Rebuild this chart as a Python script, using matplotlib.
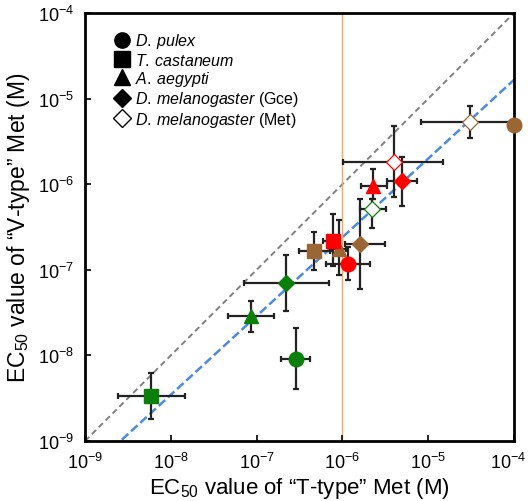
import matplotlib
matplotlib.use("Agg")
import matplotlib.pyplot as plt
from matplotlib.lines import Line2D
from matplotlib.transforms import ScaledTranslation
import numpy as np

plt.rcParams['font.family'] = ['Liberation Sans', 'DejaVu Sans']
plt.rcParams['mathtext.fontset'] = 'custom'
plt.rcParams['mathtext.rm'] = 'Liberation Sans'
plt.rcParams['mathtext.it'] = 'Liberation Sans:italic'

# EC50 values (M)
x_val = [5.9e-9, 8.5e-8, 2.2e-7, 2.9e-7, 2.2e-6,
         4.7e-7, 9.1e-7, 1.62e-6, 3.1e-5, 1.0e-4,
         7.8e-7, 1.15e-6, 2.3e-6, 4.9e-6, 4.0e-6]
y_val = [3.4e-9, 2.9e-8, 7.0e-8, 9.2e-9, 5.1e-7,
         1.67e-7, 1.75e-7, 2.0e-7, 5.3e-6, 4.9e-6,
         2.2e-7, 1.17e-7, 9.6e-7, 1.1e-6, 1.83e-6]
x_low = [2.4e-9, 4.6e-8, 7.1e-8, 1.9e-7, 1.6e-6,
         3.1e-7, 7.5e-7, 1.07e-6, 8.2e-6, 1.0e-4,
         6.0e-7, 6.4e-7, 1.66e-6, 3.3e-6, 1.02e-6]
x_high = [1.48e-8, 1.6e-7, 6.9e-7, 4.2e-7, 3.2e-6,
          7.1e-7, 1.1e-6, 3.1e-6, 1.0e-4, 1.0e-4,
          9.5e-7, 2.1e-6, 3.3e-6, 7.5e-6, 1.5e-5]
y_low = [1.8e-9, 1.9e-8, 3.3e-8, 4.1e-9, 3.1e-7,
         1.0e-7, 8.7e-8, 6.0e-8, 3.5e-6, 4.9e-6,
         1.1e-7, 7.6e-8, 6.8e-7, 5.6e-7, 7.1e-7]
y_high = [6.3e-9, 4.3e-8, 1.5e-7, 2.1e-8, 6.8e-7,
          2.8e-7, 3.8e-7, 6.8e-7, 8.3e-6, 4.9e-6,
          4.5e-7, 1.83e-7, 1.5e-6, 2.1e-6, 4.8e-6]
colors = ['green'] * 5 + ['brown'] * 5 + ['red'] * 5
markers = ['s', '^', 'D', 'o', 'd',
           's', '^', 'D', 'd', 'o',
           's', 'o', '^', 'D', 'd']

color_map = {'green': '#0a800a', 'brown': '#9a6634', 'red': '#ff0000'}

legend_labels = [r'$\it{D.\:pulex}$', r'$\it{T.\:castaneum}$', r'$\it{A.\:aegypti}$',
                 r'$\it{D.\:melanogaster}$ (Gce)', r'$\it{D.\:melanogaster}$ (Met)']
legend_markers = ['o', 's', '^', 'D', 'd']

# regression line (log-log)
fit_slope = 0.92
fit_intercept = -1.10

fig = plt.figure(figsize=(5.28, 5.02), dpi=100)
ax = fig.add_axes([0.161, 0.1195, 0.8125, 0.8525])

ax.set_xscale('log')
ax.set_yscale('log')
ax.set_xlim(1e-9, 1e-4)
ax.set_ylim(1e-9, 1e-4)

# y = x line
ax.plot([1e-9, 1e-4], [1e-9, 1e-4], ls='--', color='#808080', lw=1.4, dashes=(3, 2), zorder=1)
# fit line
lx = np.array([-9.0, -4.0])
ax.plot(10 ** lx, 10 ** (fit_slope * lx + fit_intercept), ls='--', color='#4a8ae0',
        lw=1.8, dashes=(3.5, 1.5), zorder=1)
# threshold
ax.axvline(1e-6, color='#f5a65b', lw=1, zorder=1)

for i in range(len(x_val)):
    xe = [[max(0, x_val[i] - x_low[i])], [max(0, x_high[i] - x_val[i])]]
    ye = [[max(0, y_val[i] - y_low[i])], [max(0, y_high[i] - y_val[i])]]
    if xe == [[0], [0]] and ye == [[0], [0]]:
        continue
    ax.errorbar(x_val[i], y_val[i], xerr=xe, yerr=ye, fmt='none', ecolor='#222222',
                elinewidth=1.6, capsize=2.5, capthick=1.6, zorder=2)

for i in range(len(x_val)):
    c = color_map[colors[i]]
    m = markers[i]
    if m == 'd':
        ax.plot(x_val[i], y_val[i], marker='D', ms=8, mfc='white', mec=c, mew=0.9,
                ls='none', zorder=3, clip_on=False)
    else:
        size = {'o': 10.5, 's': 10, '^': 9.5, 'D': 8}[m]
        ax.plot(x_val[i], y_val[i], marker=m, ms=size, color=c, ls='none',
                zorder=3, clip_on=False)

handles = []
for m in legend_markers:
    if m == 'd':
        handles.append(Line2D([], [], marker='D', ms=9, mfc='white', mec='black', mew=1, ls='none'))
    else:
        size = {'o': 11, 's': 11, '^': 11, 'D': 9}[m]
        handles.append(Line2D([], [], marker=m, ms=size, color='black', ls='none'))
ax.legend(handles, legend_labels, loc='upper left', bbox_to_anchor=(0.068, 0.957),
          frameon=False, fontsize=11.5, handletextpad=0.3, labelspacing=0.08,
          borderaxespad=0, borderpad=0, handlelength=1.0)

ax.set_xticks([1e-9, 1e-8, 1e-7, 1e-6, 1e-5, 1e-4])
ax.set_yticks([1e-9, 1e-8, 1e-7, 1e-6, 1e-5, 1e-4])
ax.minorticks_off()
ax.tick_params(direction='in', length=4, width=1.2, labelsize=13, pad=8)
for s in ax.spines.values():
    s.set_linewidth(2)

# keep the last x tick label inside the figure edge
last = ax.get_xticklabels()[-1]
last.set_transform(last.get_transform() + ScaledTranslation(-4 / 72, 0, fig.dpi_scale_trans))

ax.set_xlabel('EC$_{50}$ value of \u201cT-type\u201d Met (M)', fontsize=16, labelpad=2)
ax.set_ylabel('EC$_{50}$ value of \u201cV-type\u201d Met (M)', fontsize=16.5, labelpad=4)

plt.savefig('out.png', dpi=100)
